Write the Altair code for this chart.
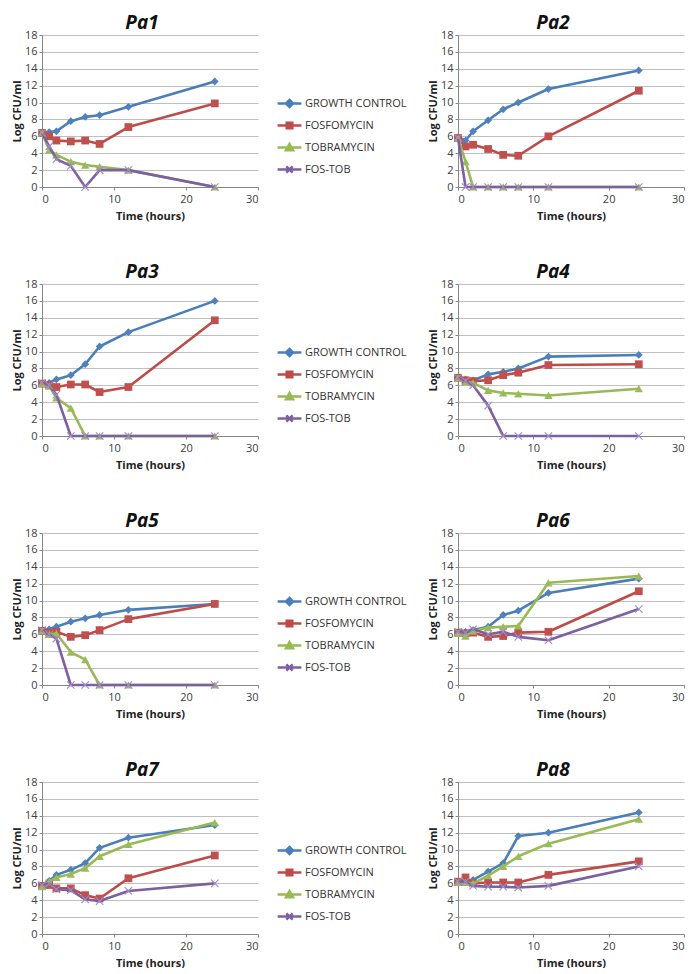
import altair as alt
import pandas as pd

TIME = [0, 1, 2, 4, 6, 8, 12, 24]
SERIES = ["GROWTH CONTROL", "FOSFOMYCIN", "TOBRAMYCIN", "FOS-TOB"]
X_TICKS = [0, 10, 20, 30]
Y_TICKS = [0, 2, 4, 6, 8, 10, 12, 14, 16, 18]

pa1_growth = [6.4, 6.5, 6.6, 7.8, 8.3, 8.5, 9.5, 12.5]
pa1_fos = [6.4, 6.0, 5.5, 5.4, 5.5, 5.1, 7.1, 9.9]
pa1_tob = [6.4, 4.4, 3.8, 3.0, 2.6, 2.4, 2.0, 0.0]
pa1_fostob = [6.4, 4.8, 3.3, 2.5, 0.0, 2.0, 2.0, 0.0]

pa2_growth = [5.9, 5.5, 6.6, 7.9, 9.2, 10.0, 11.6, 13.8]
pa2_fos = [5.8, 4.8, 5.0, 4.5, 3.8, 3.7, 6.0, 11.4]
pa2_tob = [5.8, 3.0, 0.0, 0.0, 0.0, 0.0, 0.0, 0.0]
pa2_fostob = [5.8, 0.0, 0.0, 0.0, 0.0, 0.0, 0.0, 0.0]

pa3_growth = [6.2, 6.3, 6.7, 7.2, 8.5, 10.6, 12.3, 16.0]
pa3_fos = [6.2, 6.0, 5.8, 6.1, 6.1, 5.2, 5.8, 13.7]
pa3_tob = [6.2, 5.9, 4.5, 3.3, 0.0, 0.0, 0.0, 0.0]
pa3_fostob = [6.3, 6.0, 4.9, 0.0, 0.0, 0.0, 0.0, 0.0]

pa4_growth = [6.9, 6.7, 6.6, 7.3, 7.6, 8.0, 9.4, 9.6]
pa4_fos = [6.9, 6.6, 6.5, 6.6, 7.2, 7.5, 8.4, 8.5]
pa4_tob = [6.9, 6.4, 6.3, 5.4, 5.1, 5.0, 4.8, 5.6]
pa4_fostob = [6.9, 6.5, 6.0, 3.6, 0.0, 0.0, 0.0, 0.0]

pa5_growth = [6.4, 6.6, 6.9, 7.5, 7.9, 8.3, 8.9, 9.6]
pa5_fos = [6.4, 6.2, 6.3, 5.7, 5.9, 6.5, 7.8, 9.6]
pa5_tob = [6.4, 6.0, 6.1, 3.9, 3.0, 0.0, 0.0, 0.0]
pa5_fostob = [6.5, 6.0, 5.5, 0.0, 0.0, 0.0, 0.0, 0.0]

pa6_growth = [6.2, 6.3, 6.5, 6.9, 8.3, 8.8, 10.9, 12.6]
pa6_fos = [6.2, 6.1, 6.2, 5.7, 5.8, 6.2, 6.3, 11.1]
pa6_tob = [6.1, 5.8, 6.4, 6.8, 6.9, 7.0, 12.1, 12.9]
pa6_fostob = [6.3, 6.2, 6.6, 6.0, 6.3, 5.7, 5.3, 9.0]

pa7_growth = [5.7, 6.3, 7.0, 7.6, 8.4, 10.2, 11.4, 12.9]
pa7_fos = [5.7, 5.8, 5.4, 5.4, 4.6, 4.2, 6.6, 9.3]
pa7_tob = [5.6, 6.2, 6.7, 7.1, 7.8, 9.2, 10.6, 13.2]
pa7_fostob = [5.8, 6.0, 5.3, 5.2, 4.1, 3.9, 5.1, 6.0]

pa8_growth = [6.1, 6.3, 6.4, 7.4, 8.4, 11.6, 12.0, 14.4]
pa8_fos = [6.2, 6.7, 6.0, 6.1, 6.1, 6.1, 7.0, 8.6]
pa8_tob = [6.1, 6.1, 6.0, 6.9, 8.0, 9.2, 10.7, 13.6]
pa8_fostob = [6.2, 6.2, 5.7, 5.6, 5.6, 5.5, 5.7, 8.0]

PANELS = [
    ("Pa1", [pa1_growth, pa1_fos, pa1_tob, pa1_fostob]),
    ("Pa2", [pa2_growth, pa2_fos, pa2_tob, pa2_fostob]),
    ("Pa3", [pa3_growth, pa3_fos, pa3_tob, pa3_fostob]),
    ("Pa4", [pa4_growth, pa4_fos, pa4_tob, pa4_fostob]),
    ("Pa5", [pa5_growth, pa5_fos, pa5_tob, pa5_fostob]),
    ("Pa6", [pa6_growth, pa6_fos, pa6_tob, pa6_fostob]),
    ("Pa7", [pa7_growth, pa7_fos, pa7_tob, pa7_fostob]),
    ("Pa8", [pa8_growth, pa8_fos, pa8_tob, pa8_fostob]),
]

LINE_COLORS = ["#4A7EBB", "#BE4B48", "#98B954", "#7D60A0"]
MARK_COLORS = ["#4F81BD", "#C0504D", "#9BBB59", "#A08CC6"]
MARK_SHAPES = ["diamond", "square", "triangle-up", "M-1,-1L1,1M-1,1L1,-1"]
MARK_SIZES = [60, 60, 70, 55]
LEGEND_PATHS = [
    "M-1.7,0H1.7M0,-0.5L0.5,0L0,0.5L-0.5,0Z",
    "M-1.7,0H1.7M-0.4,-0.4H0.4V0.4H-0.4Z",
    "M-1.7,0H1.7M0,-0.5L0.5,0.4H-0.5Z",
    "M-1.7,0H1.7M-0.45,-0.45L0.45,0.45M-0.45,0.45L0.45,-0.45",
]

FONT = "Open Sans"
LEFT_W, RIGHT_W, H = 216, 226, 152


def panel(name, values, with_legend, width):
    rows = []
    for s, vals in zip(SERIES, values):
        for t, v in zip(TIME, vals):
            rows.append({"t": t, "v": v, "series": s})
    df = pd.DataFrame(rows)
    x_enc = alt.X("t:Q", scale=alt.Scale(domain=[0, 30], nice=False),
                  axis=alt.Axis(values=X_TICKS, title="Time (hours)", grid=False))
    y_enc = alt.Y("v:Q", scale=alt.Scale(domain=[0, 18], nice=False),
                  axis=alt.Axis(values=Y_TICKS, title="Log CFU/ml", grid=True))
    layers = []
    for i, s in enumerate(SERIES):
        base = alt.Chart().transform_filter(alt.datum.series == s)
        layers.append(base.mark_line(color=LINE_COLORS[i], strokeWidth=2.6,
                                     strokeJoin="round").encode(x=x_enc, y=y_enc))
        if i < 3:
            pts = base.mark_point(shape=MARK_SHAPES[i], filled=True, color=MARK_COLORS[i],
                                  size=MARK_SIZES[i], opacity=1)
        else:
            pts = base.mark_point(shape=MARK_SHAPES[i], filled=False, color=MARK_COLORS[i],
                                  size=MARK_SIZES[i], strokeWidth=1.1, opacity=1)
        layers.append(pts.encode(x=x_enc, y=y_enc))
    if with_legend:
        leg = alt.Legend(title=None, orient="none", legendX=width + 23, legendY=60,
                         symbolSize=196, symbolStrokeWidth=2.5, symbolOpacity=1,
                         labelFont=FONT, labelFontSize=11, labelColor="#333333",
                         rowPadding=5, labelOffset=7, padding=0)
        legend_layer = alt.Chart().mark_point(filled=True).transform_filter("false").encode(
            fill=alt.Fill("series:N", scale=alt.Scale(domain=SERIES, range=LINE_COLORS), legend=leg),
            stroke=alt.Stroke("series:N", scale=alt.Scale(domain=SERIES, range=LINE_COLORS), legend=leg),
            shape=alt.Shape("series:N", scale=alt.Scale(domain=SERIES, range=LEGEND_PATHS), legend=leg),
        )
        layers.append(legend_layer)
    dx = -8 if with_legend else -18
    return alt.layer(*layers, data=df).properties(
        width=width, height=H,
        title=alt.TitleParams(name, dx=dx),
    )


def indep(ch):
    return ch.resolve_scale(fill="independent", stroke="independent", shape="independent") \
             .resolve_legend(fill="independent", stroke="independent", shape="independent")


rows = []
for r in range(4):
    left = panel(PANELS[2 * r][0], PANELS[2 * r][1], True, LEFT_W)
    right = panel(PANELS[2 * r + 1][0], PANELS[2 * r + 1][1], False, RIGHT_W)
    rows.append(indep(alt.hconcat(left, right, spacing=20)))

chart = indep(alt.vconcat(*rows, spacing=42)).properties(
    padding={"left": 3, "top": 6, "right": 0, "bottom": 0}
).configure_view(
    stroke=None
).configure_axis(
    domainColor="#868686", tickColor="#868686", tickSize=3,
    labelFont=FONT, labelFontSize=11, labelColor="#404040", labelPadding=2,
    titleFont=FONT, titleFontSize=11, titleFontWeight="bold", titleColor="#222222",
    gridColor="#BFBFBF", gridWidth=1,
).configure_axisX(titlePadding=6, labelPadding=3).configure_axisY(titlePadding=2).configure_title(
    font=FONT, fontSize=19, fontStyle="italic", fontWeight="bold", color="#111111",
    frame="group", anchor="middle", offset=-4,
)

chart.save("out.html", embed_options={"renderer": "svg", "actions": False})
